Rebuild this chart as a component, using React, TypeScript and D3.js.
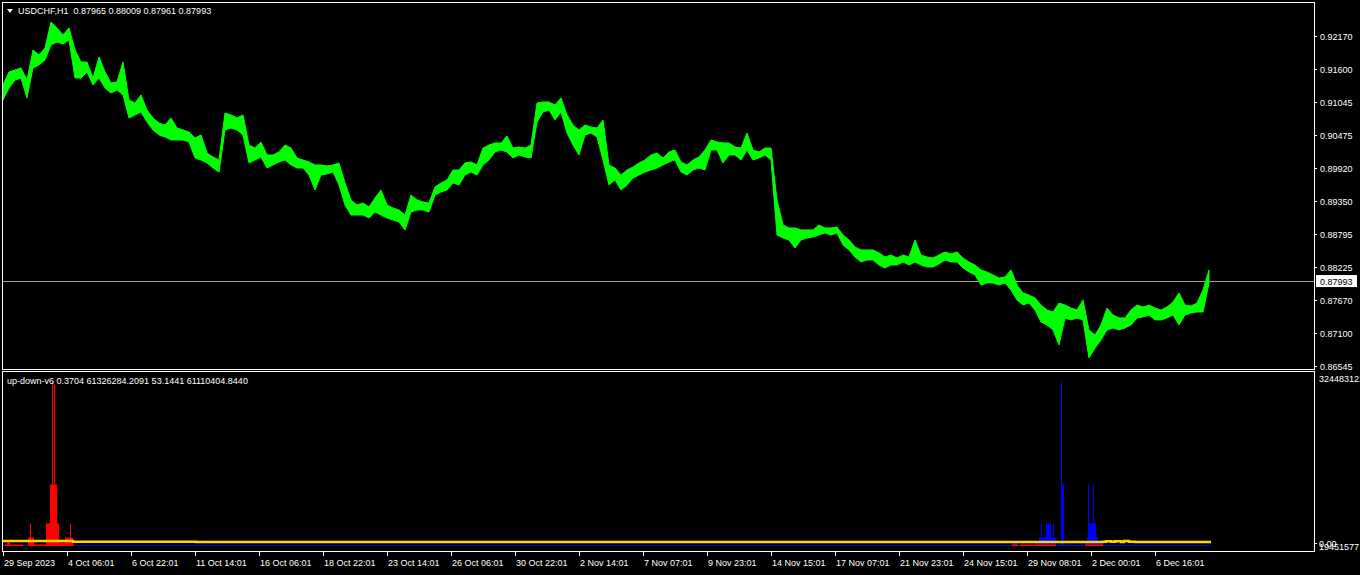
import * as d3 from 'd3';

// USDCHF H1 price band, sampled every SAMPLE_STEP bars (high / low of the sample)
const priceHigh = [
  0.91335, 0.91557, 0.91591, 0.91625, 0.9142, 0.91932, 0.91847, 0.91966, 0.92409, 0.92307,
  0.92187, 0.92307, 0.91932, 0.91727, 0.91727, 0.91454, 0.91812, 0.91557, 0.91369, 0.91386,
  0.91727, 0.91079, 0.91028, 0.91165, 0.90909, 0.90773, 0.90687, 0.90653, 0.90773, 0.90602,
  0.90568, 0.90534, 0.90432, 0.90483, 0.90176, 0.90108, 0.90057, 0.90858, 0.90824, 0.90773,
  0.90824, 0.90312, 0.90261, 0.90364, 0.90142, 0.90142, 0.90193, 0.90312, 0.90261, 0.90091,
  0.90057, 0.90023, 0.89972, 0.89972, 0.89955, 0.89972, 0.90006, 0.89665, 0.89375, 0.8929,
  0.89324, 0.89256, 0.89409, 0.89545, 0.8929, 0.89239, 0.89205, 0.89119, 0.8946, 0.89375,
  0.89341, 0.89324, 0.89597, 0.89665, 0.89716, 0.89886, 0.89886, 0.90006, 0.90023, 0.89972,
  0.90261, 0.90312, 0.90347, 0.90347, 0.90466, 0.90261, 0.90278, 0.90261, 0.90312, 0.91028,
  0.91045, 0.91045, 0.90994, 0.91114, 0.90824, 0.90653, 0.90568, 0.90653, 0.90619, 0.90602,
  0.90739, 0.89972, 0.8992, 0.89801, 0.89886, 0.89937, 0.90006, 0.90057, 0.90142, 0.90176,
  0.90091, 0.90193, 0.90227, 0.90023, 0.89972, 0.90057, 0.90108, 0.90227, 0.90398, 0.90364,
  0.90347, 0.90347, 0.90278, 0.90261, 0.90517, 0.90227, 0.90193, 0.90261, 0.90261, 0.89375,
  0.88949, 0.88898, 0.88898, 0.88864, 0.88864, 0.88864, 0.88949, 0.88898, 0.88898, 0.88915,
  0.88778, 0.88693, 0.88574, 0.88523, 0.88523, 0.88523, 0.88472, 0.88403, 0.88438, 0.88386,
  0.88438, 0.88403, 0.88693, 0.88438, 0.88403, 0.88386, 0.88438, 0.88489, 0.88455, 0.88489,
  0.88386, 0.88318, 0.88267, 0.88182, 0.88148, 0.88097, 0.88045, 0.88063, 0.88182, 0.87926,
  0.8779, 0.87756, 0.87705, 0.87585, 0.875, 0.87466, 0.87619, 0.87585, 0.87534, 0.875,
  0.8767, 0.87159, 0.87074, 0.87244, 0.87534, 0.87415, 0.87364, 0.87364, 0.875, 0.87585,
  0.87551, 0.87585, 0.87534, 0.875, 0.87551, 0.87636, 0.8779, 0.87585, 0.87568, 0.87619,
  0.87841, 0.88182,
];
const priceLow = [
  0.91079, 0.91284, 0.9142, 0.91454, 0.91114, 0.91625, 0.91676, 0.91761, 0.92017, 0.92068,
  0.92034, 0.92102, 0.91454, 0.91454, 0.91557, 0.91335, 0.91454, 0.91284, 0.91199, 0.9125,
  0.91165, 0.90773, 0.90824, 0.90875, 0.90704, 0.90568, 0.90483, 0.90449, 0.90398, 0.90398,
  0.90398, 0.90364, 0.90091, 0.90057, 0.90006, 0.8992, 0.89852, 0.90568, 0.90602, 0.90568,
  0.90483, 0.90006, 0.90057, 0.90108, 0.8992, 0.89972, 0.90023, 0.90057, 0.89972, 0.8992,
  0.8992, 0.89801, 0.89545, 0.89801, 0.89818, 0.89852, 0.89631, 0.8929, 0.89119, 0.89119,
  0.89119, 0.89068, 0.8917, 0.89119, 0.89068, 0.89034, 0.89, 0.88864, 0.8917, 0.89205,
  0.89205, 0.8917, 0.8946, 0.89511, 0.89545, 0.89665, 0.89631, 0.89801, 0.89852, 0.89801,
  0.89972, 0.90057, 0.90193, 0.90227, 0.90193, 0.90091, 0.90142, 0.90108, 0.90091, 0.90704,
  0.90875, 0.90909, 0.90739, 0.90875, 0.90517, 0.90312, 0.90142, 0.90483, 0.90517, 0.90449,
  0.90057, 0.89631, 0.89716, 0.89545, 0.89631, 0.8975, 0.89801, 0.89852, 0.89886, 0.8992,
  0.89972, 0.90023, 0.90057, 0.89852, 0.89801, 0.89886, 0.8992, 0.89886, 0.90227, 0.90227,
  0.90006, 0.90142, 0.90142, 0.90057, 0.90227, 0.90057, 0.90091, 0.90142, 0.90057, 0.88778,
  0.88727, 0.88693, 0.88557, 0.88693, 0.88727, 0.88744, 0.88778, 0.88813, 0.88778, 0.88813,
  0.88608, 0.88523, 0.88403, 0.88318, 0.88352, 0.88352, 0.88267, 0.88216, 0.88267, 0.88267,
  0.88318, 0.88267, 0.88318, 0.88267, 0.88233, 0.88233, 0.88284, 0.88352, 0.88318, 0.88318,
  0.88216, 0.88148, 0.88097, 0.87926, 0.8796, 0.8796, 0.87926, 0.8796, 0.87841, 0.8767,
  0.87585, 0.87619, 0.875, 0.87296, 0.87244, 0.87159, 0.86903, 0.87364, 0.8733, 0.87364,
  0.8733, 0.86682, 0.86852, 0.86989, 0.87159, 0.87193, 0.87159, 0.87193, 0.87244, 0.87364,
  0.87381, 0.87415, 0.8733, 0.8733, 0.87364, 0.87415, 0.87244, 0.87415, 0.87449, 0.87466,
  0.87466, 0.8796,
];
const SAMPLE_STEP = 6;
const BAR_COUNT = 1209;

const priceTicks = [0.9217, 0.916, 0.91045, 0.90475, 0.8992, 0.8935, 0.88795, 0.88225, 0.8767, 0.871, 0.86545];
const lastPrice = 0.87993;
const header = 'USDCHF,H1  0.87965 0.88009 0.87961 0.87993';

const timeLabels = [
  '29 Sep 2023', '4 Oct 06:01', '6 Oct 22:01', '11 Oct 14:01', '16 Oct 06:01', '18 Oct 22:01',
  '23 Oct 14:01', '26 Oct 06:01', '30 Oct 22:01', '2 Nov 14:01', '7 Nov 07:01', '9 Nov 23:01',
  '14 Nov 15:01', '17 Nov 07:01', '21 Nov 23:01', '24 Nov 15:01', '29 Nov 08:01', '2 Dec 00:01',
  '6 Dec 16:01',
];
const TIME_LABEL_STEP = 64; // bars between time labels

// up-down-v6 indicator: histogram runs [firstBar, lastBar, value]
const indicatorTitle = 'up-down-v6 0.3704 61326284.2091 53.1441 61110404.8440';
const indicatorMax = 324483121;
const indicatorMinLabel = '19451577';
const upRuns: [number, number, number][] = [
  [2, 19, 1980000], [4, 6, 5940000], [25, 30, 15830000], [27, 27, 43530000],
  [31, 42, 1980000], [43, 55, 43530000], [47, 53, 120700000], [49, 49, 324483121],
  [51, 51, 318000000], [55, 61, 5940000], [62, 69, 15830000], [67, 67, 43530000],
  [70, 70, 1980000], [1009, 1014, 1980000], [1017, 1052, 1980000], [1082, 1099, 1980000],
];
const downRuns: [number, number, number][] = [
  [1009, 1014, 5940000], [1019, 1019, 5940000], [1032, 1052, 5940000], [1036, 1052, 15830000],
  [1038, 1038, 43530000], [1050, 1050, 43530000], [1043, 1047, 43530000], [1058, 1060, 120700000],
  [1058, 1058, 324483121], [1067, 1067, 3900000], [1072, 1072, 3900000], [1078, 1078, 3900000],
  [1082, 1099, 5940000], [1084, 1094, 15830000], [1085, 1092, 43530000], [1085, 1085, 120700000],
  [1090, 1090, 120700000],
];
const signalBars = [0, 70, 193, 1100, 1103, 1108, 1112, 1118, 1121, 1126, 1132, 1208];
const signalVals = [8900000, 7400000, 6800000, 7600000, 8600000, 7200000, 8600000, 7000000, 8800000, 7200000, 6800000, 6800000];

const FONT = "'Liberation Sans', Arial, sans-serif";

const expandRuns = (runs: [number, number, number][]) => {
  const m = new Map<number, number>();
  runs.forEach(([a, b, v]) => {
    for (let k = a; k <= b; k++) m.set(k, Math.max(m.get(k) ?? 0, v));
  });
  return Array.from(m, ([bar, value]) => ({ bar, value }));
};

const App = () => {
  const x = d3.scaleLinear().domain([0, BAR_COUNT - 1]).range([3, 1211]);
  const yP = d3.scaleLinear().domain([0.86545, 0.9217]).range([366, 36]);
  const yI = d3.scaleLinear().domain([0, indicatorMax]).range([545.5, 381.5]);

  const band = d3
    .area<number>()
    .x((_, i) => x(i * SAMPLE_STEP))
    .y0((_, i) => yP(priceLow[i]))
    .y1((d) => yP(d));

  const signal = d3
    .line<number>()
    .x((_, i) => x(signalBars[i]))
    .y((d) => yI(d))
    .curve(d3.curveStepAfter);

  const up = expandRuns(upRuns);
  const down = expandRuns(downRuns);

  return (
    <svg width={1360} height={575} style={{ position: 'absolute', left: 0, top: 0, background: '#000' }} fontFamily={FONT}>
      <rect width={1360} height={575} fill='#000' />
      <defs>
        <clipPath id='mainClip'><rect x={3} y={3} width={1311} height={366} /></clipPath>
        <clipPath id='indClip'><rect x={3} y={372} width={1311} height={179} /></clipPath>
      </defs>

      {/* main price panel */}
      <g clipPath='url(#mainClip)'>
        <line x1={3} x2={1314} y1={Math.round(yP(lastPrice)) + 0.5} y2={Math.round(yP(lastPrice)) + 0.5} stroke='#a0a0a0' />
        <path d={band(priceHigh) ?? ''} fill='#00ff00' stroke='#00ff00' strokeWidth={1} />
      </g>
      <rect x={2.5} y={2.5} width={1312} height={367} fill='none' stroke='#fff' />
      <polygon points='7,9 13,9 10,13' fill='#fff' />
      <text x={18} y={14} fill='#fff' fontSize={9} style={{ whiteSpace: 'pre' }}>{header}</text>

      {priceTicks.map((p) => (
        <g key={p}>
          <line x1={1315} x2={1317} y1={Math.round(yP(p)) + 0.5} y2={Math.round(yP(p)) + 0.5} stroke='#fff' />
          <text x={1320} y={yP(p) + 3.5} fill='#fff' fontSize={9}>{d3.format('.5f')(p)}</text>
        </g>
      ))}
      <rect x={1316} y={yP(lastPrice) - 6} width={41} height={12} fill='#fff' />
      <text x={1320} y={yP(lastPrice) + 3.5} fill='#000' fontSize={9}>{d3.format('.5f')(lastPrice)}</text>

      {/* indicator panel */}
      <g clipPath='url(#indClip)'>
        <line x1={x(0)} x2={x(BAR_COUNT - 1)} y1={yI(0)} y2={yI(0)} stroke='#0000ff' strokeWidth={1} />
        {down.map((d) => (
          <rect key={'d' + d.bar} x={x(d.bar)} y={yI(d.value)} width={1} height={yI(0) - yI(d.value)} fill='#0000ff' />
        ))}
        {up.map((d) => (
          <rect key={'u' + d.bar} x={x(d.bar)} y={yI(d.value)} width={1} height={yI(0) - yI(d.value) + 0.5} fill='#ff0000' />
        ))}
        <path d={signal(signalVals) ?? ''} fill='none' stroke='#ffd700' strokeWidth={2.5} />
      </g>
      <rect x={2.5} y={371.5} width={1312} height={180} fill='none' stroke='#fff' />
      <text x={7} y={384} fill='#fff' fontSize={9}>{indicatorTitle}</text>
      <text x={1319} y={382} fill='#fff' fontSize={9}>{indicatorMax}</text>
      <line x1={1315} x2={1317} y1={543.5} y2={543.5} stroke='#fff' />
      <text x={1319} y={547} fill='#fff' fontSize={9}>0.00</text>
      <text x={1319} y={550} fill='#fff' fontSize={9}>{indicatorMinLabel}</text>

      {/* time axis */}
      {timeLabels.map((t, i) => {
        const tx = Math.round(x(i * TIME_LABEL_STEP)) + 0.5;
        return (
          <g key={t}>
            <line x1={tx} x2={tx} y1={552} y2={556} stroke='#fff' />
            <text x={tx + 0.5} y={566} fill='#fff' fontSize={9}>{t}</text>
          </g>
        );
      })}
    </svg>
  );
};

export default App;
